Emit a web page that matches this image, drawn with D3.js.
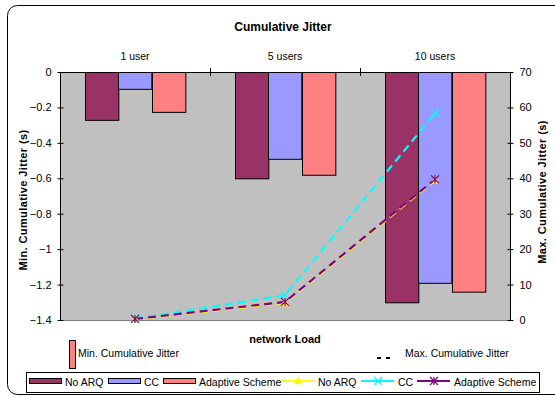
<!DOCTYPE html>
<html>
<head>
<meta charset="utf-8">
<script src="https://cdn.jsdelivr.net/npm/d3@7"></script>
<style>
  html, body { margin: 0; padding: 0; background: #fff; }
  svg { display: block; font-family: Arial, "Liberation Sans", sans-serif; }
</style>
</head>
<body>
<svg id="chart" width="555" height="397"></svg>
<script>
// Network load categories
const categories = ["1 user", "5 users", "10 users"];
const seriesNames = ["No ARQ", "CC", "Adaptive Scheme"];

// Minimum cumulative jitter (s) — bars, left axis
const minNoArq    = [-0.27, -0.60, -1.30];
const minCC       = [-0.095, -0.49, -1.19];
const minAdaptive = [-0.225, -0.58, -1.24];

// Maximum cumulative jitter (s) — lines, right axis
const maxNoArq    = [0.2, 4.8, 39.4];
const maxCC       = [0.4, 7.0, 58.3];
const maxAdaptive = [0.3, 5.1, 39.7];

// Axis ticks
const leftTicks  = [0, -0.2, -0.4, -0.6, -0.8, -1, -1.2, -1.4];
const rightTicks = [0, 10, 20, 30, 40, 50, 60, 70];

const barColors  = ["#993366", "#9999FF", "#FF8080"];
const lineColors = ["#FFFF00", "#00FFFF", "#800080"];

const svg = d3.select("#chart");

// Outer chart frame
svg.append("rect")
  .attr("x", 7.5).attr("y", 5.5).attr("width", 560).attr("height", 389)
  .attr("rx", 10).attr("ry", 10)
  .attr("fill", "#fff").attr("stroke", "#000").attr("stroke-width", 1);

const plot = { left: 60, right: 510, top: 72, bottom: 320 };

const x0 = d3.scaleBand().domain(categories).range([plot.left, plot.right]).paddingInner(0).paddingOuter(0);
const groupPad = x0.bandwidth() * 1.5 / 4.5 / 2;
const x1 = d3.scaleBand().domain(seriesNames)
  .range([groupPad, x0.bandwidth() - groupPad]).padding(0);

const yL = d3.scaleLinear().domain([-1.4, 0]).range([plot.bottom, plot.top]);
const yR = d3.scaleLinear().domain([0, 70]).range([plot.bottom, plot.top]);

// Plot area background
svg.append("rect")
  .attr("x", plot.left).attr("y", plot.top)
  .attr("width", plot.right - plot.left).attr("height", plot.bottom - plot.top)
  .attr("fill", "#C0C0C0");
svg.append("line")
  .attr("x1", plot.left).attr("x2", plot.right)
  .attr("y1", plot.bottom + 0.5).attr("y2", plot.bottom + 0.5)
  .attr("stroke", "#808080");

// Bars
const minSeries = [minNoArq, minCC, minAdaptive];
const barData = [];
categories.forEach((c, i) => {
  seriesNames.forEach((s, j) => barData.push({ cat: c, name: s, value: minSeries[j][i], color: barColors[j] }));
});
svg.append("g").selectAll("rect").data(barData).join("rect")
  .attr("x", d => Math.round(x0(d.cat) + x1(d.name)) + 0.5)
  .attr("y", yL(0) + 0.5)
  .attr("width", x1.bandwidth())
  .attr("height", d => yL(d.value) - yL(0))
  .attr("fill", d => d.color)
  .attr("stroke", "#000").attr("stroke-width", 1);

// Left axis
const axL = svg.append("g")
  .attr("transform", `translate(${plot.left + 0.5},0)`)
  .call(d3.axisLeft(yL).tickValues(leftTicks).tickSize(3).tickPadding(6)
    .tickFormat(d => d3.format("")(Math.round(d * 10) / 10)));
axL.selectAll(".tick line").attr("x2", 3).attr("x1", -3);
axL.select(".domain").attr("d", `M0,${plot.top}V${plot.bottom}`);
axL.selectAll("text").attr("font-size", 11).attr("font-family", "Arial, 'Liberation Sans', sans-serif");

// Right axis
const axR = svg.append("g")
  .attr("transform", `translate(${plot.right + 0.5},0)`)
  .call(d3.axisRight(yR).tickValues(rightTicks).tickSize(3).tickPadding(6));
axR.selectAll(".tick line").attr("x1", -3).attr("x2", 3);
axR.select(".domain").attr("d", `M0,${plot.top}V${plot.bottom}`);
axR.selectAll("text").attr("font-size", 11).attr("font-family", "Arial, 'Liberation Sans', sans-serif");

// Category axis along the zero line (top), labels above
const axT = svg.append("g")
  .attr("transform", `translate(0,${plot.top + 0.5})`)
  .call(d3.axisTop(x0).tickSize(0).tickPadding(13));
axT.select(".domain").attr("d", `M${plot.left},0H${plot.right}`);
axT.selectAll("text").attr("font-size", 10.5).attr("font-family", "Arial, 'Liberation Sans', sans-serif");
svg.append("g").selectAll("line").data(categories.slice(1)).join("line")
  .attr("x1", d => x0(d) + 0.5).attr("x2", d => x0(d) + 0.5)
  .attr("y1", plot.top - 4).attr("y2", plot.top + 4)
  .attr("stroke", "#000");

// Lines (right axis)
const maxSeries = [maxNoArq, maxCC, maxAdaptive];
const cx = c => x0(c) + x0.bandwidth() / 2;
const line = d3.line().x(d => cx(d.cat)).y(d => yR(d.value));

function marker(g, type, color, px, py) {
  if (type === 0) {
    g.append("path")
      .attr("d", `M${px},${py - 4}L${px + 4},${py + 3}L${px - 4},${py + 3}Z`)
      .attr("fill", color).attr("stroke", color).attr("stroke-width", 0.5);
  } else if (type === 1) {
    g.append("path")
      .attr("d", `M${px - 4},${py - 4}L${px + 4},${py + 4}M${px - 4},${py + 4}L${px + 4},${py - 4}`)
      .attr("stroke", color).attr("stroke-width", 1.2).attr("fill", "none");
  } else {
    g.append("path")
      .attr("d", `M${px - 4},${py - 4}L${px + 4},${py + 4}M${px - 4},${py + 4}L${px + 4},${py - 4}M${px},${py - 4}V${py + 4}`)
      .attr("stroke", color).attr("stroke-width", 1.2).attr("fill", "none");
  }
}

const linesG = svg.append("g");
maxSeries.forEach((vals, j) => {
  const pts = categories.map((c, i) => ({ cat: c, value: vals[i] }));
  linesG.append("path").datum(pts)
    .attr("d", line)
    .attr("fill", "none")
    .attr("stroke", lineColors[j])
    .attr("stroke-width", 2.2)
    .attr("stroke-dasharray", "8,5");
});
maxSeries.forEach((vals, j) => {
  categories.forEach((c, i) => marker(linesG, j, lineColors[j], cx(c), yR(vals[i])));
});

// Titles
svg.append("text").attr("x", 283).attr("y", 31).attr("text-anchor", "middle")
  .attr("font-size", 12).attr("font-weight", "bold").text("Cumulative Jitter");
svg.append("text").attr("x", 285).attr("y", 343).attr("text-anchor", "middle")
  .attr("font-size", 11).attr("font-weight", "bold").text("network Load");
svg.append("text")
  .attr("transform", `translate(27,200) rotate(-90)`)
  .attr("text-anchor", "middle").attr("font-size", 11).attr("font-weight", "bold")
  .attr("letter-spacing", 0.4)
  .text("Min. Cumulative Jitter (s)");
svg.append("text")
  .attr("transform", `translate(546,192) rotate(-90)`)
  .attr("text-anchor", "middle").attr("font-size", 11).attr("font-weight", "bold")
  .attr("letter-spacing", 0.4)
  .text("Max. Cumulative Jitter (s)");

// Axis-type legend
svg.append("rect").attr("x", 69.5).attr("y", 340.5).attr("width", 6).attr("height", 28)
  .attr("fill", "#FF8080").attr("stroke", "#000");
svg.append("text").attr("x", 78).attr("y", 357).attr("font-size", 10.5).text("Min. Cumulative Jitter");
svg.append("line").attr("x1", 377).attr("x2", 392).attr("y1", 358).attr("y2", 358)
  .attr("stroke", "#000").attr("stroke-width", 2.2).attr("stroke-dasharray", "4,5");
svg.append("text").attr("x", 405).attr("y", 357).attr("font-size", 10.5).text("Max. Cumulative Jitter");

// Series legend
const leg = svg.append("g");
leg.append("rect").attr("x", 26.5).attr("y", 372.5).attr("width", 513).attr("height", 20)
  .attr("fill", "#fff").attr("stroke", "#000");
const barLegX = [29, 108, 163];
seriesNames.forEach((s, j) => {
  leg.append("rect").attr("x", barLegX[j] + 0.5).attr("y", 378.5).attr("width", 32).attr("height", 5)
    .attr("fill", barColors[j]).attr("stroke", "#000");
  leg.append("text").attr("x", barLegX[j] + 36).attr("y", 386).attr("font-size", 10.5).text(s);
});
const lineLegX = [281, 361, 417];
seriesNames.forEach((s, j) => {
  leg.append("line").attr("x1", lineLegX[j]).attr("x2", lineLegX[j] + 33)
    .attr("y1", 381).attr("y2", 381).attr("stroke", lineColors[j]).attr("stroke-width", 2);
  marker(leg, j, lineColors[j], lineLegX[j] + 17, 381);
  leg.append("text").attr("x", lineLegX[j] + 37).attr("y", 386).attr("font-size", 10.5).text(s);
});
</script>
</body>
</html>
